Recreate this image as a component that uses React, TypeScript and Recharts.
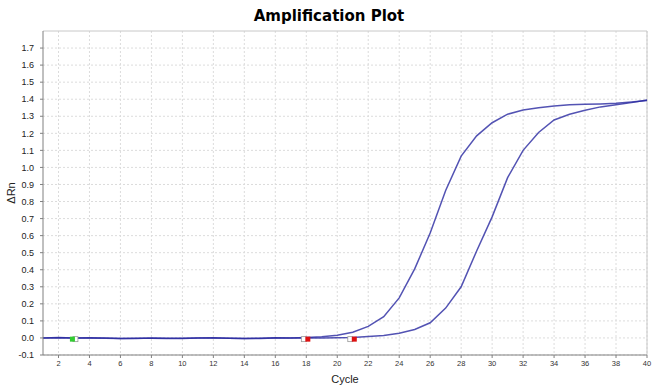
import React from 'react';
import {
  ComposedChart,
  Line,
  Scatter,
  XAxis,
  YAxis,
  CartesianGrid,
  ReferenceLine,
} from 'recharts';

const cycles = [
  1, 2, 3, 4, 5, 6, 7, 8, 9, 10, 11, 12, 13, 14, 15, 16, 17, 18, 19, 20,
  21, 22, 23, 24, 25, 26, 27, 28, 29, 30, 31, 32, 33, 34, 35, 36, 37, 38, 39, 40,
];

const wellA = [
  0.0, 0.002, 0.0, 0.001, -0.001, -0.003, -0.002, -0.002, -0.003, -0.002,
  0.0, 0.001, -0.002, -0.003, -0.002, 0.001, 0.0, 0.003, 0.007, 0.016,
  0.033, 0.068, 0.125, 0.235, 0.405, 0.615, 0.865, 1.066, 1.185, 1.262,
  1.312, 1.337, 1.35, 1.36, 1.367, 1.37, 1.372, 1.376, 1.384, 1.392,
];

const wellB = [
  0.0, 0.001, -0.001, 0.0, -0.002, -0.003, -0.003, -0.001, -0.002, -0.003,
  -0.001, 0.0, -0.002, -0.003, -0.003, 0.0, -0.001, 0.0, 0.0, 0.001,
  0.003, 0.008, 0.014, 0.027, 0.05, 0.089, 0.175, 0.3, 0.51, 0.71,
  0.94, 1.1, 1.205, 1.278, 1.312, 1.335, 1.355, 1.368, 1.38, 1.395,
];

const markerCycles = [2.9, 18.1, 21.1];
const markerValues = [-0.007, -0.007, -0.007];
const markerKinds = ['start', 'end', 'end'];

const xTicks = [2, 4, 6, 8, 10, 12, 14, 16, 18, 20, 22, 24, 26, 28, 30, 32, 34, 36, 38, 40];
const yTicks = [-0.1, 0, 0.1, 0.2, 0.3, 0.4, 0.5, 0.6, 0.7, 0.8, 0.9, 1.0, 1.1, 1.2, 1.3, 1.4, 1.5, 1.6, 1.7];

const data = cycles.map((c, i) => ({ cycle: c, a: wellA[i], b: wellB[i] }));
const markers = markerCycles.map((c, i) => ({ cycle: c, value: markerValues[i], kind: markerKinds[i] }));

const MarkerShape = (props: any) => {
  const { cx, cy, payload } = props;
  if (cx == null || cy == null) return null;
  const s = 5;
  const isStart = payload.kind === 'start';
  const fill = isStart ? '#33cc33' : '#dd1111';
  const whiteX = isStart ? cx + 3 : cx - 4;
  return (
    <g>
      <rect x={whiteX - s / 2} y={cy - s / 2} width={s} height={s} fill="#ffffff" stroke="#999999" strokeWidth={0.8} />
      <rect x={cx - s / 2} y={cy - s / 2} width={s} height={s} fill={fill} />
    </g>
  );
};

const fmtY = (v: number) => v.toFixed(1);

export default function App() {
  return (
    <div style={{ position: 'absolute', left: 0, top: 0, width: 658, height: 391, background: '#fff' }}>
      <div
        style={{
          position: 'absolute',
          left: 0,
          top: 7,
          width: 658,
          textAlign: 'center',
          fontFamily: '"DejaVu Sans", sans-serif',
          fontWeight: 'bold',
          fontSize: 15,
          color: '#000',
        }}
      >
        Amplification Plot
      </div>
      <ComposedChart width={658} height={391} data={data} margin={{ top: 31, right: 11, bottom: 0, left: 0 }}>
        <CartesianGrid stroke="#dcdcdc" strokeDasharray="2 2" verticalValues={xTicks} horizontalValues={yTicks} />
        <XAxis
          dataKey="cycle"
          type="number"
          domain={[1, 40]}
          ticks={xTicks}
          interval={0}
          height={36}
          stroke="#808080"
          tickSize={3}
          tickMargin={3}
          tick={{ fontSize: 7.5, fill: '#333', fontFamily: '"Liberation Sans", Arial, sans-serif' }}
          label={{
            value: 'Cycle',
            position: 'insideBottom',
            offset: 8,
            style: { fontSize: 11, fill: '#222', fontFamily: '"Liberation Sans", Arial, sans-serif' },
          }}
        />
        <YAxis
          type="number"
          domain={[-0.1, 1.8]}
          ticks={yTicks}
          interval={0}
          width={43}
          stroke="#808080"
          tickSize={3}
          tickMargin={6}
          tickFormatter={fmtY}
          tick={{ fontSize: 9, fill: '#222', fontFamily: '"Liberation Sans", Arial, sans-serif' }}
          label={{
            value: 'ΔRn',
            angle: -90,
            position: 'insideLeft',
            offset: 11,
            style: { textAnchor: 'middle', fontSize: 11, fill: '#222', fontFamily: '"Liberation Sans", Arial, sans-serif' },
          }}
        />
        <ReferenceLine y={1.8} stroke="#c8c8c8" />
        <ReferenceLine x={40} stroke="#c8c8c8" />
        <Line dataKey="a" type="linear" stroke="#2828a0" strokeOpacity={0.8} strokeWidth={1.5} dot={false} isAnimationActive={false} />
        <Line dataKey="b" type="linear" stroke="#2828a0" strokeOpacity={0.8} strokeWidth={1.5} dot={false} isAnimationActive={false} />
        <Scatter data={markers} dataKey="value" shape={MarkerShape} isAnimationActive={false} />
      </ComposedChart>
    </div>
  );
}
